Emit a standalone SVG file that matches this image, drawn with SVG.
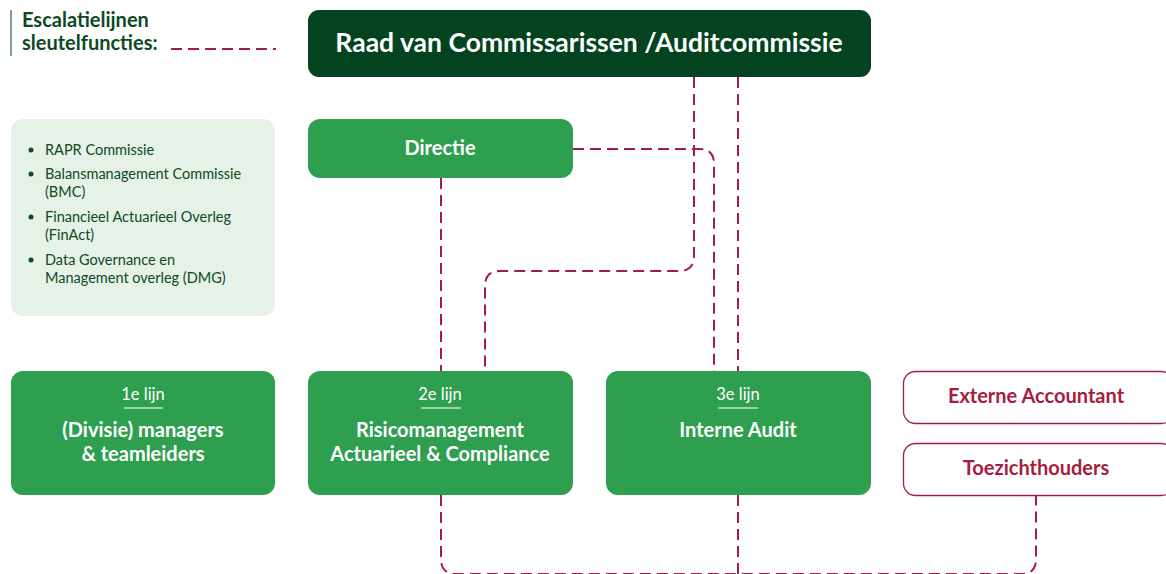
<svg xmlns="http://www.w3.org/2000/svg" width="1166" height="574" viewBox="0 0 1166 574">
<style>
text{font-family:Lato,"Open Sans","Liberation Sans",sans-serif}
.esc{fill:none;stroke:#a51d3f;stroke-width:2;stroke-dasharray:11 6}
.g{fill:#2e9e4f}
.w{fill:#ffffff;text-anchor:middle}
.t{font-size:20px;font-weight:700}
.s{font-size:16.5px}
.ul{stroke:#bfe3c8;stroke-width:1.5}
.ext{fill:#ffffff;stroke:#a51d3f;stroke-width:1.3}
.et{fill:#a51d3f;text-anchor:middle;font-size:20px;font-weight:700}
.li{fill:#0c4a24;font-size:14.5px}
</style>
<g id="legend">
<line x1="11" y1="10" x2="11" y2="56" stroke="#7aa58a" stroke-width="2"/>
<text x="22" y="27" font-size="20" font-weight="700" fill="#0c4a24">Escalatielijnen</text>
<text x="22" y="50" font-size="20" font-weight="700" fill="#0c4a24">sleutelfuncties:</text>
<line class="esc" x1="171" y1="49" x2="276" y2="49" stroke-dasharray="9 6"/>
</g>
<g id="connectors">
<path class="esc" d="M694,77 V256 Q694,271 679,271 H500 Q485,271 485,286 V371"/>
<path class="esc" d="M738,77 V371"/>
<path class="esc" d="M573,149 H699 Q714,149 714,164 V371"/>
<path class="esc" d="M441,178 V371"/>
<path class="esc" d="M441,495 V559 Q441,574 456,574 H1021 Q1036,574 1036,559 V495"/>
<path class="esc" d="M738,495 V574"/>
</g>
<g id="rvc">
<rect x="308" y="10" width="563" height="67" rx="11" fill="#03431f"/>
<text x="589" y="52" class="w" font-size="26.5" font-weight="700">Raad van Commissarissen /Auditcommissie</text>
</g>
<g id="directie">
<rect x="308" y="119" width="265" height="59" rx="12" class="g"/>
<text x="440" y="155" class="w t">Directie</text>
</g>
<g id="overleggen">
<rect x="11" y="119" width="264" height="197" rx="12" fill="#e6f2e8"/>
<circle cx="31" cy="150" r="2.5" fill="#0c4a24"/>
<circle cx="31" cy="174" r="2.5" fill="#0c4a24"/>
<circle cx="31" cy="217" r="2.5" fill="#0c4a24"/>
<circle cx="31" cy="260" r="2.5" fill="#0c4a24"/>
<text class="li" x="45" y="155">RAPR Commissie</text>
<text class="li" x="45" y="179">Balansmanagement Commissie</text>
<text class="li" x="45" y="197">(BMC)</text>
<text class="li" x="45" y="222">Financieel Actuarieel Overleg</text>
<text class="li" x="45" y="240">(FinAct)</text>
<text class="li" x="45" y="265">Data Governance en</text>
<text class="li" x="45" y="283">Management overleg (DMG)</text>
</g>
<g id="lijn1">
<rect x="11" y="371" width="264" height="124" rx="12" class="g"/>
<text x="143" y="400" class="w s">1e lijn</text>
<line class="ul" x1="124" y1="408" x2="163" y2="408"/>
<text x="143" y="437" class="w t">(Divisie) managers</text>
<text x="143" y="461" class="w t">&amp; teamleiders</text>
</g>
<g id="lijn2">
<rect x="308" y="371" width="265" height="124" rx="12" class="g"/>
<text x="440" y="400" class="w s">2e lijn</text>
<line class="ul" x1="421" y1="408" x2="461" y2="408"/>
<text x="440" y="437" class="w t">Risicomanagement</text>
<text x="440" y="461" class="w t">Actuarieel &amp; Compliance</text>
</g>
<g id="lijn3">
<rect x="606" y="371" width="265" height="124" rx="12" class="g"/>
<text x="738" y="400" class="w s">3e lijn</text>
<line class="ul" x1="718" y1="408" x2="758" y2="408"/>
<text x="738" y="437" class="w t">Interne Audit</text>
</g>
<g id="externe">
<rect x="903.5" y="371.5" width="270" height="52" rx="12" class="ext"/>
<text x="1036" y="403" class="et">Externe Accountant</text>
</g>
<g id="toezicht">
<rect x="903.5" y="443.5" width="270" height="52" rx="12" class="ext"/>
<text x="1036" y="475" class="et">Toezichthouders</text>
</g>
</svg>
